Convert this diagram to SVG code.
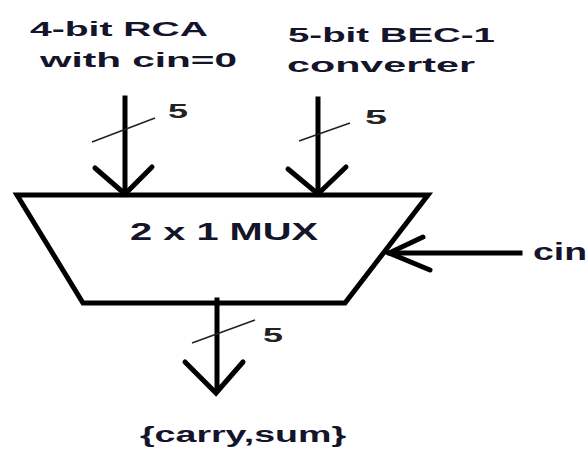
<svg xmlns="http://www.w3.org/2000/svg" width="588" height="451" viewBox="0 0 588 451">
<style>
.lbl{font-family:"Liberation Sans",Arial,sans-serif;font-weight:bold;fill:#14142a}
.num{font-family:"Liberation Sans",Arial,sans-serif;font-weight:bold;fill:#222;font-size:20px}
.thick{stroke:#000;stroke-width:5;fill:none;stroke-linecap:square}
.head{stroke:#000;stroke-width:5;fill:none;stroke-linecap:round;stroke-linejoin:miter}
.slash{stroke:#222;stroke-width:1.6;fill:none}
</style>
<rect width="588" height="451" fill="#fff"/>
<g id="rca">
<text class="lbl" x="30" y="36" font-size="21" textLength="178" lengthAdjust="spacingAndGlyphs">4-bit RCA</text>
<text class="lbl" x="40" y="67" font-size="21" textLength="197" lengthAdjust="spacingAndGlyphs">with cin=0</text>
</g>
<g id="bec">
<text class="lbl" x="288" y="42" font-size="21" textLength="207" lengthAdjust="spacingAndGlyphs">5-bit BEC-1</text>
<text class="lbl" x="287" y="72" font-size="21" textLength="188" lengthAdjust="spacingAndGlyphs">converter</text>
</g>
<g id="mux">
<polygon points="17,195 428,195 345,303 83,303" fill="none" stroke="#000" stroke-width="5" stroke-linejoin="miter"/>
<text class="lbl" x="130" y="240" font-size="23" textLength="188" lengthAdjust="spacingAndGlyphs">2 x 1 MUX</text>
</g>
<g id="cin">
<text class="lbl" x="533" y="260" font-size="23" textLength="54" lengthAdjust="spacingAndGlyphs">cin</text>
</g>
<g id="out">
<text class="lbl" x="140" y="442" font-size="22" textLength="206" lengthAdjust="spacingAndGlyphs">{carry,sum}</text>
</g>
<g id="connectors">
<line class="thick" x1="125" y1="98" x2="125" y2="192"/>
<polyline class="head" points="95,168 125,194 152,167"/>
<line class="slash" x1="92" y1="142" x2="155" y2="118"/>
<text class="num" x="168" y="118" textLength="20" lengthAdjust="spacingAndGlyphs">5</text>
<line class="thick" x1="318" y1="99" x2="318" y2="192"/>
<polyline class="head" points="288,169 318,194 346,167"/>
<line class="slash" x1="299" y1="141" x2="350" y2="123"/>
<text class="num" x="365" y="124" textLength="22" lengthAdjust="spacingAndGlyphs">5</text>
<line class="thick" x1="390" y1="253" x2="520" y2="253" stroke-width="4"/>
<polyline class="head" points="423,237 389,253 430,270"/>
<line class="thick" x1="217" y1="300" x2="217" y2="390"/>
<polyline class="head" points="185,362 216,393 243,362"/>
<line class="slash" x1="192" y1="343" x2="255" y2="320"/>
<text class="num" x="263" y="342" font-weight="normal" font-size="21" textLength="20" lengthAdjust="spacingAndGlyphs">5</text>
</g>
</svg>
